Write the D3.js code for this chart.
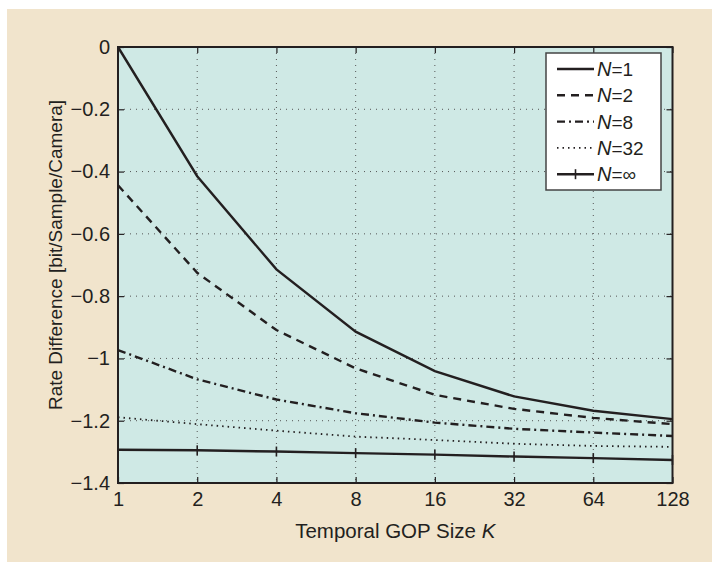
<!DOCTYPE html>
<html><head><meta charset="utf-8">
<script src="https://cdn.jsdelivr.net/npm/d3@7"></script>
<style>
html,body{margin:0;padding:0;background:#fff;}
text{font-family:"Liberation Sans",Arial,Helvetica,sans-serif;fill:#231f20;}
</style></head>
<body>
<svg id="c" width="712" height="562"></svg>
<script>
const K = [1, 2, 4, 8, 16, 32, 64, 128];
const N1 = [0, -0.415, -0.714, -0.914, -1.041, -1.122, -1.168, -1.195];
const N2 = [-0.444, -0.725, -0.909, -1.032, -1.117, -1.162, -1.191, -1.211];
const N8 = [-0.973, -1.067, -1.132, -1.176, -1.206, -1.226, -1.238, -1.249];
const N32 = [-1.189, -1.211, -1.232, -1.251, -1.262, -1.274, -1.281, -1.284];
const NInf = [-1.293, -1.295, -1.299, -1.304, -1.309, -1.315, -1.320, -1.326];
const seriesNames = ["1", "2", "8", "32", "\u221e"];
const yTicks = [0, -0.2, -0.4, -0.6, -0.8, -1, -1.2, -1.4];
const xTickLabels = ["1", "2", "4", "8", "16", "32", "64", "128"];

const svg = d3.select("#c");
svg.append("rect").attr("x", 7).attr("y", 9).attr("width", 705).attr("height", 553).attr("fill", "#f1e4cc");

const L = 118, R = 672.5, T = 47, B = 483;
const x = d3.scaleLog().base(2).domain([1, 128]).range([L, R]);
const y = d3.scaleLinear().domain([-1.4, 0]).range([B, T]);

svg.append("rect").attr("x", L).attr("y", T).attr("width", R - L).attr("height", B - T).attr("fill", "#cfe9e5");

// grid
const grid = svg.append("g").attr("stroke", "#555").attr("stroke-width", 1).attr("stroke-dasharray", "1,5");
K.slice(1, -1).forEach(k => grid.append("line").attr("x1", x(k)).attr("x2", x(k)).attr("y1", T).attr("y2", B));
yTicks.slice(1, -1).forEach(v => grid.append("line").attr("x1", L).attr("x2", R).attr("y1", y(v)).attr("y2", y(v)));

// axes with inward ticks
const fmt = v => (v === 0 ? "0" : "\u2212" + String(Math.abs(v)));
const xAxis = d3.axisBottom(x).tickValues(K).tickFormat((d, i) => xTickLabels[i]).tickSizeInner(-6).tickSizeOuter(0).tickPadding(9);
const gx = svg.append("g").attr("transform", `translate(0,${B})`).call(xAxis);
gx.select(".domain").remove();
gx.selectAll("line").attr("stroke", "#231f20").attr("stroke-width", 1.2);
gx.selectAll("text").attr("font-size", 20).attr("fill", "#231f20");

const xTop = d3.axisTop(x).tickValues(K).tickFormat("").tickSizeInner(-6).tickSizeOuter(0);
const gxt = svg.append("g").attr("transform", `translate(0,${T})`).call(xTop);
gxt.select(".domain").remove();
gxt.selectAll("line").attr("stroke", "#231f20").attr("stroke-width", 1.2);

const yAxis = d3.axisLeft(y).tickValues(yTicks).tickFormat(fmt).tickSizeInner(-6).tickSizeOuter(0).tickPadding(8);
const gy = svg.append("g").attr("transform", `translate(${L},0)`).call(yAxis);
gy.select(".domain").remove();
gy.selectAll("line").attr("stroke", "#231f20").attr("stroke-width", 1.2);
gy.selectAll("text").attr("font-size", 20).attr("fill", "#231f20");

const yRight = d3.axisRight(y).tickValues(yTicks).tickFormat("").tickSizeInner(-6).tickSizeOuter(0);
const gyr = svg.append("g").attr("transform", `translate(${R},0)`).call(yRight);
gyr.select(".domain").remove();
gyr.selectAll("line").attr("stroke", "#231f20").attr("stroke-width", 1.2);

// series
const styles = [
  {data: N1, dash: null},
  {data: N2, dash: "8,6"},
  {data: N8, dash: "8,4,2,4"},
  {data: N32, dash: "1.5,4"},
  {data: NInf, dash: null, marker: true}
];
const line = d3.line().x((d, i) => x(K[i])).y(d => y(d));
const plot = svg.append("g");
styles.forEach(s => {
  plot.append("path").datum(s.data).attr("d", line).attr("fill", "none")
    .attr("stroke", "#231f20").attr("stroke-width", s.dash === "1.5,4" ? 1.8 : 2.4)
    .attr("stroke-dasharray", s.dash);
  if (s.marker) {
    s.data.forEach((v, i) => {
      plot.append("line").attr("x1", x(K[i])).attr("x2", x(K[i])).attr("y1", y(v) - 5).attr("y2", y(v) + 5)
        .attr("stroke", "#231f20").attr("stroke-width", 1.6);
    });
  }
});

// frame
svg.append("rect").attr("x", L).attr("y", T).attr("width", R - L).attr("height", B - T)
  .attr("fill", "none").attr("stroke", "#231f20").attr("stroke-width", 2);

// legend
const lg = svg.append("g");
const lx = 546, ly = 53, lw = 115, lh = 137;
lg.append("rect").attr("x", lx).attr("y", ly).attr("width", lw).attr("height", lh)
  .attr("fill", "#fff").attr("stroke", "#444").attr("stroke-width", 1.5);
styles.forEach((s, i) => {
  const yy = 69 + i * 26.3;
  lg.append("line").attr("x1", 557).attr("x2", 594).attr("y1", yy).attr("y2", yy)
    .attr("stroke", "#231f20").attr("stroke-width", s.dash === "1.5,4" ? 1.8 : 2.4).attr("stroke-dasharray", s.dash);
  if (s.marker) lg.append("line").attr("x1", 575.5).attr("x2", 575.5).attr("y1", yy - 5).attr("y2", yy + 5)
    .attr("stroke", "#231f20").attr("stroke-width", 1.6);
  const t = lg.append("text").attr("x", 597).attr("y", yy + 7).attr("font-size", 20);
  t.append("tspan").attr("font-style", "italic").text("N");
  t.append("tspan").attr("font-size", 19).text("=" + seriesNames[i]);
});

// axis titles
const xt = svg.append("text").attr("x", (L + R) / 2).attr("y", 538).attr("text-anchor", "middle").attr("font-size", 20.5);
xt.append("tspan").text("Temporal GOP Size ");
xt.append("tspan").attr("font-style", "italic").text("K");

svg.append("text").attr("transform", `translate(62,${(T + B) / 2 - 10}) rotate(-90)`)
  .attr("text-anchor", "middle").attr("font-size", 19).text("Rate Difference [bit/Sample/Camera]");
</script>
</body></html>
